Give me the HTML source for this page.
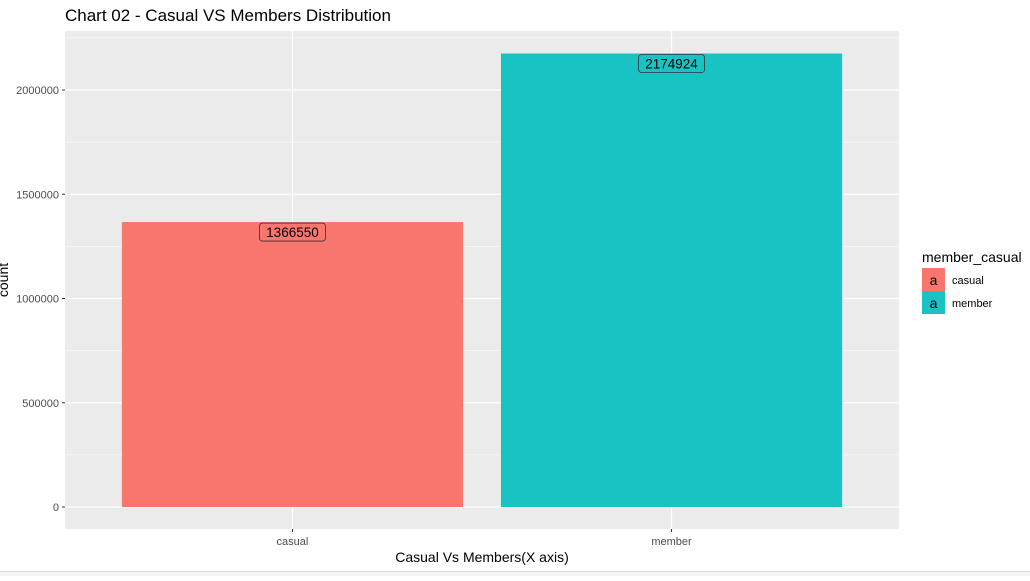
<!DOCTYPE html>
<html><head><meta charset="utf-8"><style>
body{margin:0;background:#fff;width:1030px;height:576px;overflow:hidden;font-family:"Liberation Sans",sans-serif}
</style></head><body>
<svg id="chart" width="1030" height="576" xmlns="http://www.w3.org/2000/svg">
<rect x="0" y="571" width="1030" height="5" fill="#f4f5f7"/>
<line x1="0" y1="571.5" x2="1030" y2="571.5" stroke="#d6d8dc"/>
<text x="65" y="21" font-size="17" fill="#000">Chart 02 - Casual VS Members Distribution</text>
<rect x="65" y="31" width="834" height="498" fill="#ebebeb"/>
<g id="grid"></g>
<g id="bars"></g>
<g id="axes"></g>
<text x="482" y="562" font-size="14" text-anchor="middle" fill="#000">Casual Vs Members(X axis)</text>
<text transform="translate(8,280) rotate(-90)" font-size="14" text-anchor="middle" fill="#000">count</text>
<text x="922" y="262" font-size="14" fill="#000">member_casual</text>
<g id="legend"></g>
</svg>
<script>
const categories=["casual","member"];
const counts=[1366550,2174924];
const colors=["#f8766d","#19c3c3"];
const yTicks=[0,500000,1000000,1500000,2000000];
const yTickLabels=["0","500000","1000000","1500000","2000000"];
const yMinor=[250000,750000,1250000,1750000,2250000];
const NS="http://www.w3.org/2000/svg";
const px0=65,px1=899,py0=507,kpx=417/2000000;
const y=v=>py0-v*kpx;
const span=categories.length+0.2;
const unit=(px1-px0)/span;
const x=i=>px0+unit*(i+0.6);
const bw=unit*0.9;
function mk(tag,attrs,parent){const e=document.createElementNS(NS,tag);for(const k in attrs)e.setAttribute(k,attrs[k]);document.getElementById(parent).appendChild(e);return e;}
yMinor.forEach(v=>{const l=mk('line',{x1:px0,x2:px1,y1:y(v),y2:y(v),stroke:'#fff','stroke-width':0.6},'grid');

});
yTicks.forEach((v,i)=>{const l=mk('line',{x1:px0,x2:px1,y1:y(v),y2:y(v),stroke:'#fff','stroke-width':1.2},'grid');


const t=mk('line',{x1:px0-3,x2:px0,y1:y(v),y2:y(v),stroke:'#333'},'axes');


const tx=mk('text',{x:px0-6,y:y(v)+4,'font-size':11,'text-anchor':'end',fill:'#4d4d4d'},'axes');tx.textContent=yTickLabels[i];

});
categories.forEach((c,i)=>{const g=mk('line',{x1:x(i),x2:x(i),y1:31,y2:529,stroke:'#fff','stroke-width':1.2},'grid');


const b=mk('rect',{x:x(i)-bw/2,y:y(counts[i]),width:bw,height:y(0)-y(counts[i]),fill:colors[i]},'bars');


const lb=mk('rect',{x:x(i)-33,y:y(counts[i])+1,width:66,height:18,rx:3,fill:colors[i],stroke:'#333','stroke-width':0.8},'bars');


const lt=mk('text',{x:x(i),y:y(counts[i])+15,'font-size':13.5,'text-anchor':'middle',fill:'#000'},'bars');lt.textContent=counts[i];


const tk=mk('line',{x1:x(i),x2:x(i),y1:529,y2:532,stroke:'#333'},'axes');


const tl=mk('text',{x:x(i),y:545,'font-size':11,'text-anchor':'middle',fill:'#4d4d4d'},'axes');tl.textContent=c;


const ly=268+i*23;
const lk=mk('rect',{x:922,y:ly,width:23,height:23,fill:colors[i]},'legend');


const la=mk('text',{x:933.5,y:ly+17,'font-size':14,'text-anchor':'middle',fill:'#000'},'legend');la.textContent='a';


const ll=mk('text',{x:952,y:ly+16,'font-size':11,fill:'#000'},'legend');ll.textContent=c;

});
</script>
</body></html>
